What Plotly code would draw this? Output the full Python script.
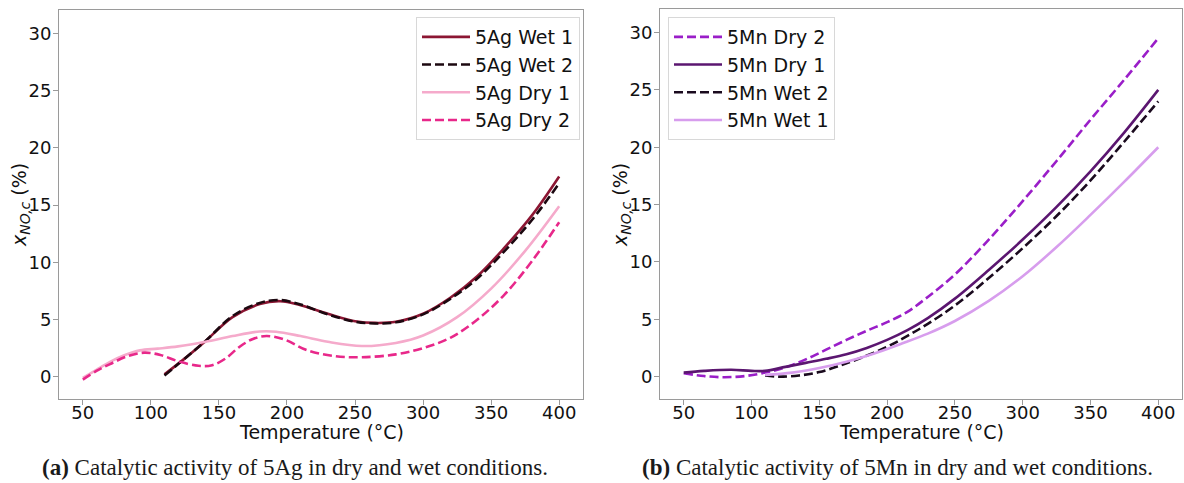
import plotly.graph_objects as go

# ---------------- data ----------------
ag_wet1_T = [110, 125, 140, 160, 180, 195, 210, 230, 250, 265, 280, 300, 320, 340, 360, 380, 400]
ag_wet1_v = [0.2, 1.6, 3.1, 5.2, 6.35, 6.6, 6.25, 5.5, 4.85, 4.7, 4.8, 5.5, 6.9, 8.8, 11.3, 14.1, 17.5]

ag_wet2_T = [110, 125, 140, 160, 180, 195, 210, 230, 250, 265, 280, 300, 320, 340, 360, 380, 400]
ag_wet2_v = [0.1, 1.6, 3.1, 5.3, 6.45, 6.7, 6.3, 5.45, 4.8, 4.65, 4.75, 5.45, 6.8, 8.6, 11.0, 13.7, 16.9]

ag_dry1_T = [50, 60, 70, 80, 92, 105, 120, 140, 160, 180, 192, 210, 230, 255, 280, 300, 325, 350, 375, 400]
ag_dry1_v = [-0.1, 0.6, 1.3, 1.85, 2.3, 2.45, 2.65, 3.05, 3.55, 3.95, 3.93, 3.55, 3.05, 2.68, 2.95, 3.6, 5.2, 7.7, 11.0, 14.9]

ag_dry2_T = [50, 60, 70, 82, 95, 107, 120, 135, 145, 155, 165, 175, 185, 198, 215, 235, 255, 280, 300, 320, 340, 360, 380, 400]
ag_dry2_v = [-0.25, 0.5, 1.1, 1.75, 2.1, 1.9, 1.35, 0.95, 1.0, 1.6, 2.6, 3.3, 3.55, 3.25, 2.3, 1.8, 1.7, 1.95, 2.5, 3.4, 5.0, 7.2, 10.1, 13.5]

mn_dry2_T = [50, 65, 80, 95, 110, 125, 140, 155, 170, 185, 200, 215, 230, 250, 275, 300, 325, 350, 375, 400]
mn_dry2_v = [0.3, 0.05, -0.05, 0.05, 0.35, 0.8, 1.5, 2.35, 3.2, 4.0, 4.75, 5.65, 6.95, 8.9, 11.95, 15.3, 18.8, 22.4, 25.9, 29.5]

mn_dry1_T = [50, 65, 85, 100, 110, 125, 140, 155, 170, 185, 200, 215, 230, 250, 275, 300, 325, 350, 375, 400]
mn_dry1_v = [0.35, 0.5, 0.6, 0.5, 0.5, 0.85, 1.2, 1.55, 1.95, 2.5, 3.2, 4.05, 5.1, 6.8, 9.3, 11.95, 14.8, 17.9, 21.3, 25.0]

mn_wet2_T = [110, 120, 135, 150, 165, 180, 200, 215, 230, 250, 275, 300, 325, 350, 375, 400]
mn_wet2_v = [0.1, 0.0, 0.1, 0.4, 0.95, 1.6, 2.6, 3.55, 4.6, 6.2, 8.6, 11.2, 14.0, 17.1, 20.5, 24.0]

mn_wet1_T = [110, 130, 150, 170, 190, 210, 230, 250, 275, 300, 325, 350, 375, 400]
mn_wet1_v = [0.15, 0.35, 0.75, 1.3, 2.0, 2.85, 3.75, 4.85, 6.6, 8.75, 11.3, 14.1, 17.0, 20.0]

x_ticks = [50, 100, 150, 200, 250, 300, 350, 400]
y_ticks = [0, 5, 10, 15, 20, 25, 30]

# ---------------- figure ----------------
W, H = 1184, 483
FONT = "DejaVu Sans"
DASH = "9px,4px"

fig = go.Figure()

def add(T, v, name, color, dash, xa, ya, leg):
    fig.add_trace(go.Scatter(
        x=T, y=v, name=name, mode="lines",
        line=dict(color=color, width=2.6, dash=dash, shape="spline", smoothing=1.0),
        xaxis=xa, yaxis=ya, legend=leg, showlegend=True))

add(ag_wet1_T, ag_wet1_v, "5Ag Wet 1", "#8c1633", "solid", "x", "y", "legend")
add(ag_wet2_T, ag_wet2_v, "5Ag Wet 2", "#1c0810", DASH, "x", "y", "legend")
add(ag_dry1_T, ag_dry1_v, "5Ag Dry 1", "#f5aacb", "solid", "x", "y", "legend")
add(ag_dry2_T, ag_dry2_v, "5Ag Dry 2", "#e8288a", DASH, "x", "y", "legend")

add(mn_dry2_T, mn_dry2_v, "5Mn Dry 2", "#9a1ec8", DASH, "x2", "y2", "legend2")
add(mn_dry1_T, mn_dry1_v, "5Mn Dry 1", "#5b1670", "solid", "x2", "y2", "legend2")
add(mn_wet2_T, mn_wet2_v, "5Mn Wet 2", "#1a0a1e", DASH, "x2", "y2", "legend2")
add(mn_wet1_T, mn_wet1_v, "5Mn Wet 1", "#d79ded", "solid", "x2", "y2", "legend2")

def px_x(p):
    return p / W

def px_y(p):
    return 1 - p / H

axis_common = dict(
    showline=True, mirror=True, linecolor="#9a9a9a", linewidth=1,
    ticks="outside", ticklen=5, tickcolor="#9a9a9a", tickwidth=1,
    showgrid=False, zeroline=False,
    tickfont=dict(family=FONT, size=18, color="#111111"),
)

fig.update_layout(
    width=W, height=H,
    margin=dict(l=0, r=0, t=0, b=0),
    paper_bgcolor="white", plot_bgcolor="white",
    xaxis=dict(domain=[px_x(59), px_x(583)], range=[32.5, 417.5], tickvals=x_ticks,
               anchor="y", ticklabelstandoff=-8, **axis_common),
    yaxis=dict(domain=[px_y(399), px_y(10)], range=[-1.95, 32.05], tickvals=y_ticks,
               anchor="x", ticklabelstandoff=-2, **axis_common),
    xaxis2=dict(domain=[px_x(660), px_x(1182)], range=[32.5, 417.5], tickvals=x_ticks,
                anchor="y2", ticklabelstandoff=-8, **axis_common),
    yaxis2=dict(domain=[px_y(399), px_y(9)], range=[-1.95, 32.05], tickvals=y_ticks,
                anchor="x2", ticklabelstandoff=-2, **axis_common),
    legend=dict(x=px_x(580), y=px_y(17), xanchor="right", yanchor="top",
                bgcolor="white", bordercolor="#d8d8d8", borderwidth=1, itemwidth=48,
                font=dict(family=FONT, size=19, color="#111111")),
    legend2=dict(x=px_x(668), y=px_y(17), xanchor="left", yanchor="top",
                 bgcolor="white", bordercolor="#d8d8d8", borderwidth=1, itemwidth=48,
                 font=dict(family=FONT, size=19, color="#111111")),
)

TITLE_FONT = dict(family=FONT, size=19, color="#111111")
YTITLE = "<i>x</i><sub><i><span style='font-size:14px'>NO,c</span></i></sub> (%)"
for xc in (321, 921):
    fig.add_annotation(text="Temperature (°C)", xref="paper", yref="paper",
                       x=px_x(xc), y=px_y(432), xanchor="center", yanchor="middle",
                       showarrow=False, font=TITLE_FONT)
for xc in (21, 622):
    fig.add_annotation(text=YTITLE, xref="paper", yref="paper", textangle=-90,
                       x=px_x(xc), y=px_y(205), xanchor="center", yanchor="middle",
                       showarrow=False, font=TITLE_FONT)

CAP_FONT = dict(family="Liberation Serif", size=23, color="#1a1a1a")
fig.add_annotation(text="<b>(a)</b> Catalytic activity of 5Ag in dry and wet conditions.",
                   xref="paper", yref="paper", x=px_x(295), y=px_y(467),
                   xanchor="center", yanchor="middle", showarrow=False, font=CAP_FONT)
fig.add_annotation(text="<b>(b)</b> Catalytic activity of 5Mn in dry and wet conditions.",
                   xref="paper", yref="paper", x=px_x(897), y=px_y(467),
                   xanchor="center", yanchor="middle", showarrow=False, font=CAP_FONT)

fig.write_html("out.html")
